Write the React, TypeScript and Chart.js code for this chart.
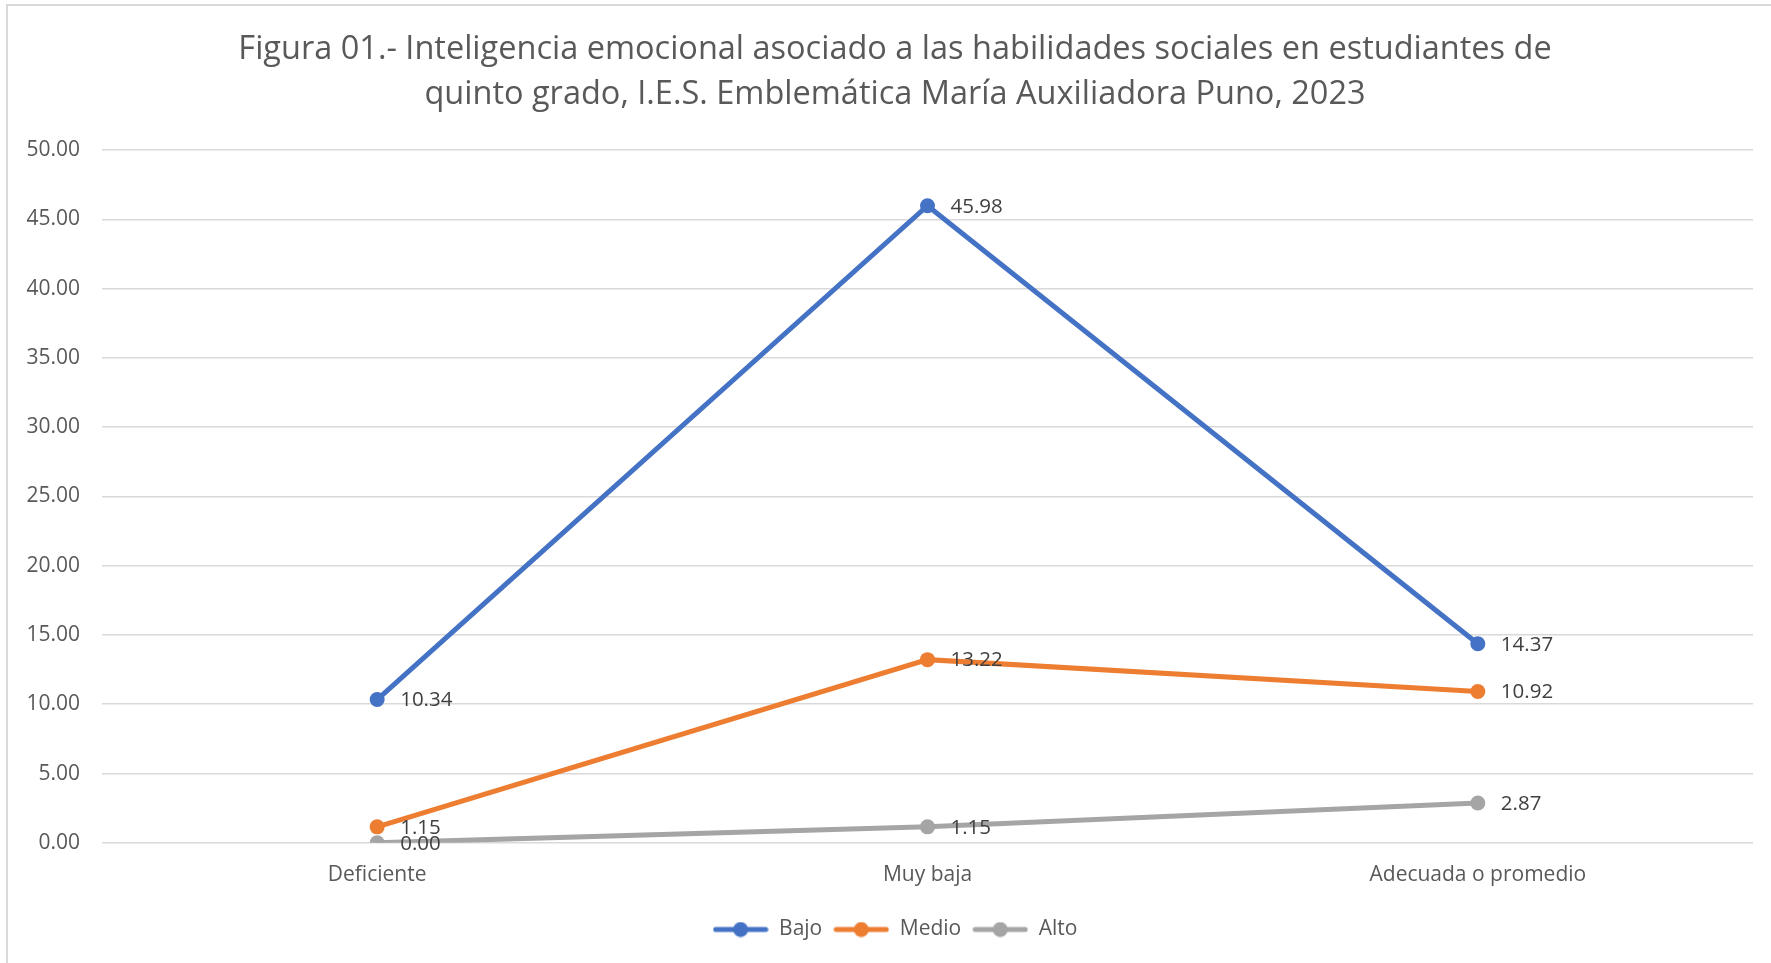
import React, { useEffect, useRef } from "react";
import { Chart, registerables } from "chart.js";
Chart.register(...registerables);

const categories = ["Deficiente", "Muy baja", "Adecuada o promedio"];
const seriesNames = ["Bajo", "Medio", "Alto"];
const bajo = [10.34, 45.98, 14.37];
const medio = [1.15, 13.22, 10.92];
const alto = [0.0, 1.15, 2.87];
const seriesColors = ["#4472C4", "#ED7D31", "#A5A5A5"];
const titleLines = [
  "Figura 01.- Inteligencia emocional asociado a las habilidades sociales en estudiantes de",
  "quinto grado, I.E.S. Emblemática María Auxiliadora Puno, 2023",
];
const yMin = 0;
const yMax = 50;
const yStep = 5;

const FONT = "'Open Sans', 'Noto Sans', sans-serif";

function legendImage(color: string): HTMLCanvasElement {
  const c = document.createElement("canvas");
  c.width = 56;
  c.height = 16;
  const ctx = c.getContext("2d")!;
  ctx.strokeStyle = color;
  ctx.lineWidth = 5;
  ctx.lineCap = "round";
  ctx.beginPath();
  ctx.moveTo(3, 8);
  ctx.lineTo(53, 8);
  ctx.stroke();
  ctx.fillStyle = color;
  ctx.beginPath();
  ctx.arc(28, 8, 7.5, 0, Math.PI * 2);
  ctx.fill();
  return c;
}

const bgPlugin = {
  id: "bgBorder",
  beforeDraw(chart: any) {
    const { ctx, width, height } = chart;
    ctx.save();
    ctx.fillStyle = "#ffffff";
    ctx.fillRect(0, 0, width, height);
    ctx.strokeStyle = "#D9D9D9";
    ctx.lineWidth = 2;
    ctx.beginPath();
    ctx.moveTo(7, height);
    ctx.lineTo(7, 5);
    ctx.lineTo(width, 5);
    ctx.stroke();
    ctx.restore();
  },
};

const labelPlugin = {
  id: "valueLabels",
  afterDatasetsDraw(chart: any) {
    const { ctx } = chart;
    ctx.save();
    ctx.font = `20.5px ${FONT}`;
    ctx.fillStyle = "#404040";
    ctx.textAlign = "left";
    ctx.textBaseline = "middle";
    chart.data.datasets.forEach((ds: any, i: number) => {
      const meta = chart.getDatasetMeta(i);
      meta.data.forEach((pt: any, j: number) => {
        const v = ds.data[j] as number;
        ctx.fillText(v.toFixed(2), pt.x + 23, pt.y + 1);
      });
    });
    ctx.restore();
  },
};

export default function App() {
  const ref = useRef<HTMLCanvasElement | null>(null);
  useEffect(() => {
    document.body.style.margin = "0";
    const values = [bajo, medio, alto];
    const chart = new Chart(ref.current!, {
      type: "line",
      data: {
        labels: categories,
        datasets: seriesNames.map((name, i) => ({
          label: name,
          data: values[i],
          yAxisID: "y",
          borderColor: seriesColors[i],
          backgroundColor: seriesColors[i],
          borderWidth: 5,
          pointStyle: "circle",
          pointRadius: 7.5,
          pointHoverRadius: 7.5,
          pointBackgroundColor: seriesColors[i],
          pointBorderWidth: 0,
          tension: 0,
          fill: false,
        })),
      },
      options: {
        responsive: false,
        animation: false,
        devicePixelRatio: 1,
        layout: { padding: { left: 22, right: 3, top: 0, bottom: 13 } },
        plugins: {
          title: {
            display: true,
            text: titleLines,
            color: "#595959",
            font: { family: FONT, size: 32.5, weight: "normal" as any, lineHeight: 1.385 },
            padding: { top: 27, bottom: 33 },
          },
          legend: {
            position: "bottom",
            labels: {
              usePointStyle: true,
              pointStyleWidth: 56,
              boxHeight: 16,
              padding: 11,
              color: "#595959",
              font: { family: FONT, size: 21 },
              generateLabels: (ch: any) =>
                ch.data.datasets.map((ds: any, i: number) => ({
                  text: ds.label,
                  fillStyle: seriesColors[i],
                  strokeStyle: seriesColors[i],
                  lineWidth: 0,
                  pointStyle: legendImage(seriesColors[i]),
                  hidden: false,
                  datasetIndex: i,
                  fontColor: "#595959",
                })),
            },
          },
          tooltip: { enabled: false },
        },
        scales: {
          x: {
            offset: true,
            grid: { display: false, drawTicks: false },
            border: { display: false },
            ticks: { color: "#595959", font: { family: FONT, size: 21 }, padding: 20 },
          },
          y: {
            position: "left",
            min: yMin,
            max: yMax,
            afterFit: (scale: any) => {
              scale.width = 80;
            },
            grid: { color: "#D9D9D9", lineWidth: 1.5, drawTicks: false },
            border: { display: false },
            ticks: {
              stepSize: yStep,
              color: "#595959",
              font: { family: FONT, size: 21 },
              padding: 22,
              callback: (v: any) => Number(v).toFixed(2),
            },
          },
          yRightSpace: {
            type: "linear",
            position: "right",
            display: true,
            afterFit: (scale: any) => {
              scale.width = 15;
            },
            grid: { display: false, drawTicks: false },
            border: { display: false },
            ticks: { display: false },
          },
        },
      },
      plugins: [bgPlugin, labelPlugin],
    });
    return () => chart.destroy();
  }, []);
  return (
    <div style={{ position: "fixed", left: 0, top: 0, width: 1771, height: 963 }}>
      <canvas ref={ref} width={1771} height={963} style={{ width: 1771, height: 963 }} />
    </div>
  );
}
